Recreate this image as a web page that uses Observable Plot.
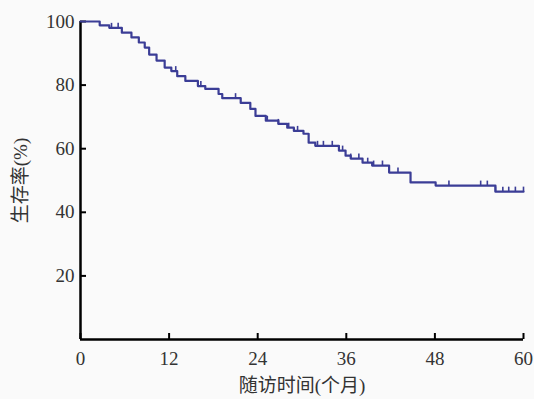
<!DOCTYPE html>
<html>
<head>
<meta charset="utf-8">
<script src="https://cdn.jsdelivr.net/npm/d3@7"></script>
<script src="https://cdn.jsdelivr.net/npm/@observablehq/plot@0.6"></script>
<style>
  html, body { margin: 0; padding: 0; background: #fafafa; }
</style>
</head>
<body>
<div id="chart"></div>
<script>
// Kaplan–Meier step curve: event times (months) and survival (%) after each step
const months   = [0, 2.6, 3.9, 5.6, 6.9, 7.9, 8.7, 9.3, 10.3, 11.4, 12.3, 13.1, 14.2, 15.9, 16.9, 18.7, 19.2, 21.7, 23.0, 23.7, 25.1, 26.8, 28.0, 28.9, 30.2, 30.9, 31.8, 35.0, 35.9, 36.6, 38.2, 39.5, 41.8, 44.7, 48.1, 56.2, 60];
const survival = [100, 98.8, 98, 96.5, 95, 93.4, 91.8, 89.6, 87.7, 85.5, 84.4, 82.8, 81.3, 79.7, 78.8, 77.2, 75.9, 74.4, 72.5, 70.3, 68.8, 67.8, 66.6, 65.6, 64.7, 61.9, 60.9, 59.4, 57.8, 56.9, 55.6, 54.7, 52.5, 49.4, 48.4, 46.5, 46.5];
// censored observations (months)
const censored = [4.2, 5.1, 12.9, 16.3, 21.0, 25.3, 26.8, 28.2, 29.4, 32.1, 32.9, 34.1, 35.5, 36.6, 37.7, 38.9, 39.7, 40.9, 43.0, 49.9, 54.2, 55.1, 56.2, 57.2, 58.0, 58.9, 60];
const xTicks = [0, 12, 24, 36, 48, 60];
const yTicks = [20, 40, 60, 80, 100];
const xLabel = "随访时间(个月)";
const yLabel = "生存率(%)";

const curve = months.map((m, i) => ({month: m, surv: survival[i]}));
function survAt(t) {
  let s = survival[0];
  for (let i = 0; i < months.length; i++) if (months[i] <= t) s = survival[i];
  return s;
}
const cens = censored.map(t => ({month: t, surv: survAt(t)}));

const censorSymbol = {
  draw(context, size) {
    const r = Math.sqrt(size / Math.PI);
    context.moveTo(0, 0);
    context.lineTo(0, -r);
  }
};

const ink = "#3b3d96";
const font = "'Liberation Serif', 'Noto Sans CJK SC', serif";

const chart = Plot.plot({
  width: 534,
  height: 399,
  marginLeft: 80,
  marginRight: 11,
  marginTop: 21,
  marginBottom: 60,
  style: {background: "#fafafa", fontFamily: font, color: "#333"},
  x: {domain: [0, 60]},
  y: {domain: [0, 100]},
  marks: [
    Plot.axisX({ticks: xTicks, tickSize: -6, tickPadding: 18, fontSize: 19, label: null, stroke: "black", strokeWidth: 2, fontFamily: font}),
    Plot.axisX({ticks: [], label: xLabel, labelAnchor: "center", labelArrow: "none", labelOffset: 52, fontSize: 19, fontFamily: font}),
    Plot.axisY({ticks: yTicks, tickSize: -6, tickPadding: 12, fontSize: 19, label: null, stroke: "black", strokeWidth: 2, fontFamily: font}),
    Plot.axisY({ticks: [], label: yLabel, labelAnchor: "center", labelArrow: "none", labelOffset: 67, fontSize: 19, fontFamily: font}),
    Plot.ruleY([0], {stroke: "black", strokeWidth: 2.5}),
    Plot.ruleX([0], {stroke: "black", strokeWidth: 2.5}),
    Plot.line(curve, {x: "month", y: "surv", curve: "step-after", stroke: ink, strokeWidth: 2.2}),
    Plot.dot(cens, {x: "month", y: "surv", symbol: censorSymbol, r: 5, stroke: ink, strokeWidth: 1.6, fill: "none"})
  ]
});
document.getElementById("chart").appendChild(chart);
</script>
</body>
</html>
